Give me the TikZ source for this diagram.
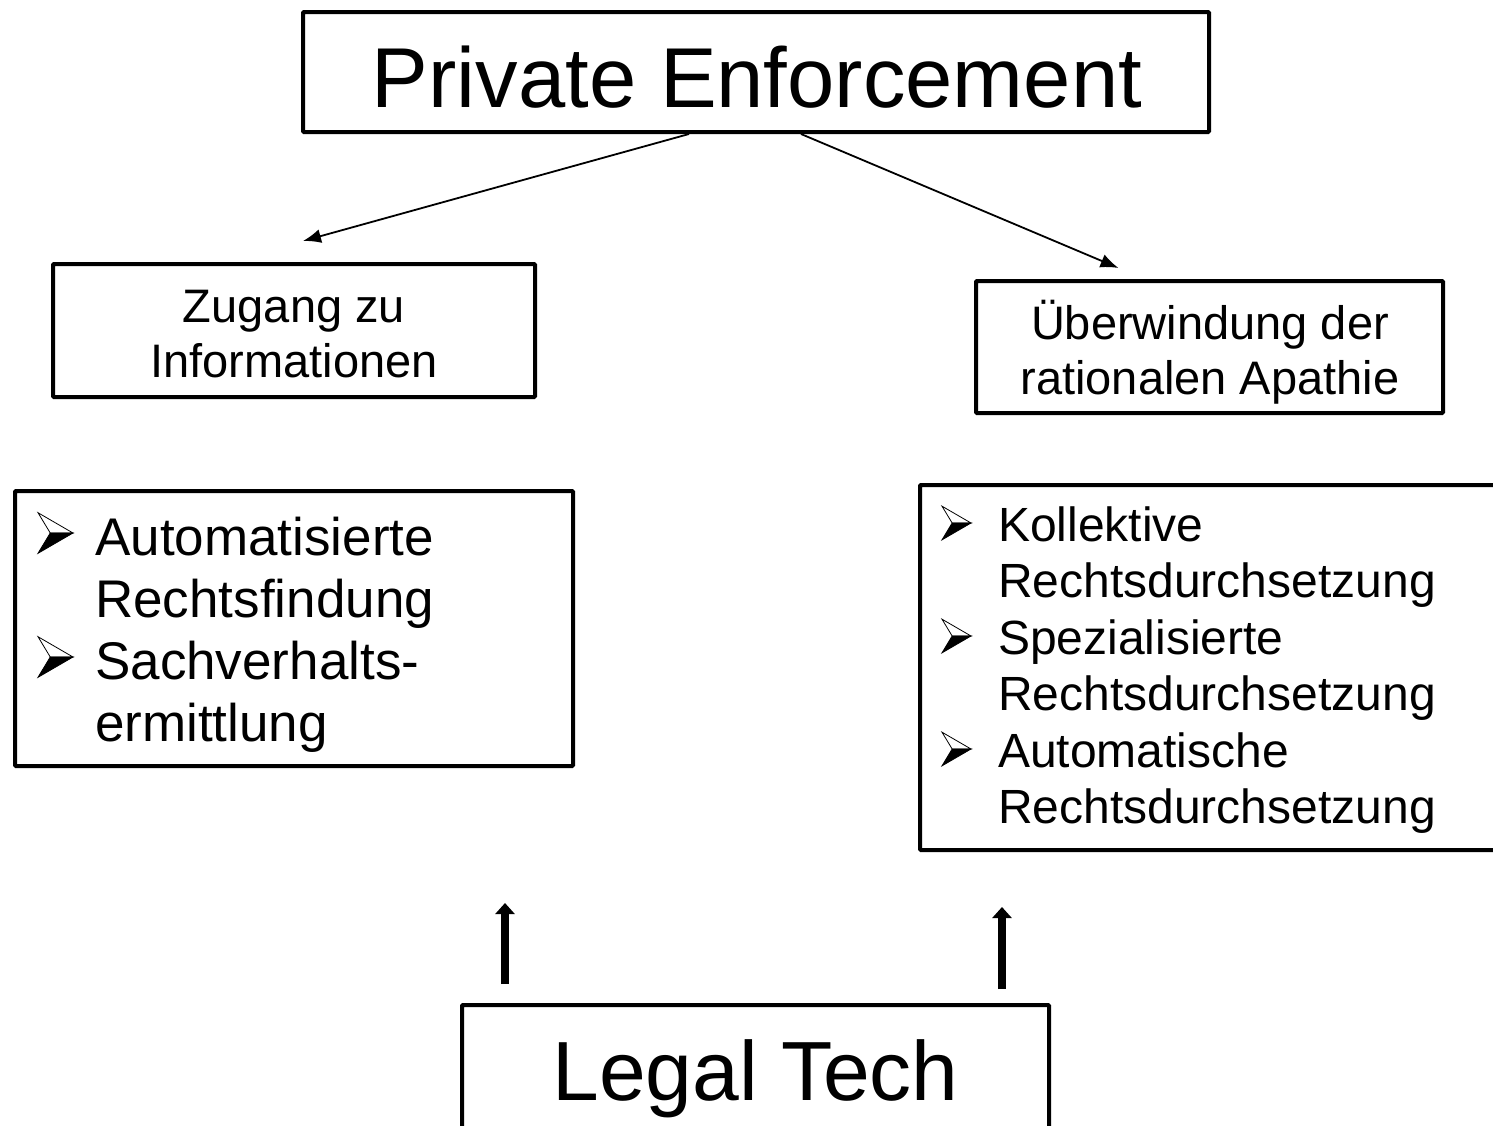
\documentclass[tikz,border=0pt]{standalone}
\usepackage{fontspec}
\setmainfont{Liberation Sans}
\usetikzlibrary{arrows.meta,calc}
\tikzset{
  box/.style={draw, line width=4pt, rounded corners=1pt, inner sep=0pt},
  txt/.style={inner sep=0pt, anchor=base},
  ltxt/.style={inner sep=0pt, anchor=base west},
  conn/.style={line width=1.8pt, -{Latex[length=18pt,width=14pt]}},
  upar/.style={line width=8pt, -{Triangle[length=11pt,width=19pt]}},
  bul/.pic={
    \filldraw[line width=0.8pt, fill=white] (0,0) -- (-1,-0.58) -- (-0.65,0) -- cycle;
    \filldraw[line width=0.8pt, fill=black] (0,0) -- (-0.65,0) -- (-1,0.58) -- cycle;
  }
}
\begin{document}
\begin{tikzpicture}[x=1pt,y=-1pt]
\useasboundingbox (0,0) rectangle (1493,1125);
\clip (0,0) rectangle (1493,1125);
\fill[white] (0,0) rectangle (1493,1125);

% boxes
\node[box, minimum width=906pt, minimum height=120pt] (pe) at (756,72) {};
\node[txt, font=\fontsize{85}{90}\selectfont] (pet) at (757,107) {Private Enforcement};

\node[box, minimum width=482pt, minimum height=133pt] (zi) at (294,330.5) {};
\node[txt, font=\fontsize{47}{55}\selectfont] (zi1) at (294,322) {Zugang zu};
\node[txt, font=\fontsize{47}{55}\selectfont] (zi2) at (294,377) {Informationen};

\node[box, minimum width=467pt, minimum height=132pt] (ur) at (1209.5,347) {};
\node[txt, font=\fontsize{47}{55}\selectfont] (ur1) at (1210,339) {Überwindung der};
\node[txt, font=\fontsize{47}{55}\selectfont] (ur2) at (1210,394) {rationalen Apathie};

% left list
\node[box, minimum width=558pt, minimum height=275pt] (ll) at (294,628.5) {};
\begin{scope}[every node/.style={ltxt, font=\fontsize{53}{62}\selectfont}]
\node (ll1) at (95,555) {Automatisierte};
\node (ll2) at (95,617) {Rechtsfindung};
\node (ll3) at (95,679) {Sachverhalts-};
\node (ll4) at (95,741) {ermittlung};
\end{scope}
\pic[scale=35] at (73,533) {bul};
\pic[scale=35] at (73,657) {bul};

% right list
\node[box, minimum width=590pt, minimum height=365pt] (rl) at (1215,667.5) {};
\begin{scope}[every node/.style={ltxt, font=\fontsize{48}{57}\selectfont}]
\node (rl1) at (998,541) {Kollektive};
\node (rl2) at (998,597.5) {Rechtsdurchsetzung};
\node (rl3) at (998,654) {Spezialisierte};
\node (rl4) at (998,710.5) {Rechtsdurchsetzung};
\node (rl5) at (998,767) {Automatische};
\node (rl6) at (998,823.5) {Rechtsdurchsetzung};
\end{scope}
\pic[scale=29] at (971,523) {bul};
\pic[scale=29] at (971,636) {bul};
\pic[scale=29] at (971,749) {bul};

% bottom box
\node[box, minimum width=587pt, minimum height=135pt] (lt) at (755.5,1072.5) {};
\node[txt, font=\fontsize{84}{90}\selectfont] (ltt) at (755.5,1100) {Legal Tech};

% connectors
\draw[conn] ([xshift=-67pt]pe.south) -- ([xshift=9pt,yshift=21pt]zi.north);
\draw[conn] ([xshift=45pt]pe.south) -- ([xshift=-91pt,yshift=11pt]ur.north);

\coordinate (u1) at (505,903);
\coordinate (u2) at (1002,907);
\draw[upar] ([yshift=19pt]u1 |- lt.north) -- (u1);
\draw[upar] ([yshift=14pt]u2 |- lt.north) -- (u2);
\end{tikzpicture}
\end{document}
